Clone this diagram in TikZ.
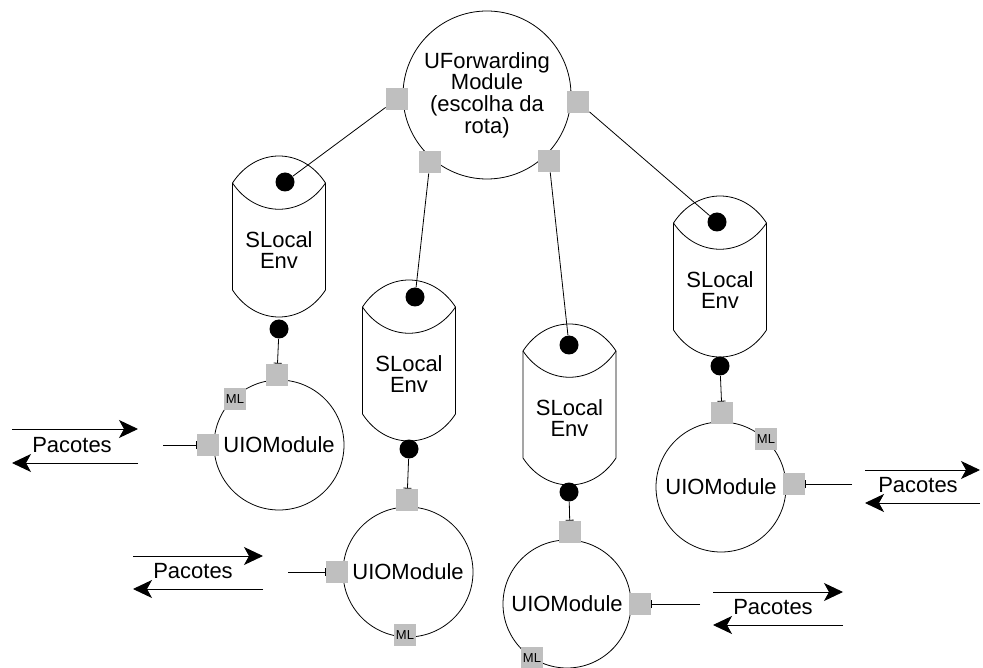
\documentclass[tikz,border=0pt]{standalone}
\usepackage{fontspec}
\setmainfont{Liberation Sans}
\usetikzlibrary{arrows.meta}

\tikzset{
  modulo/.style={draw, circle, inner sep=0pt, minimum size=130pt},
  porta/.style={rectangle, fill=black!25, inner sep=0pt, minimum size=22pt},
  portaml/.style={porta, font=\fontsize{13}{13}\selectfont},
  bola/.style={circle, fill=black, inner sep=0pt, minimum size=19pt},
  ligabar/.style={-{Bar[width=8pt]}},
  seta/.style={line width=0.9pt, -{Stealth[length=19pt,width=18pt,inset=5pt]}}
}

% cilindro SLocal Env: nome, x, y do topo das paredes
\newcommand{\cilindro}[3]{%
  \begin{scope}[shift={(#2,#3)}]
    \draw[fill=white] (-46.5,0) -- (-46.5,107)
      .. controls (-23,143) and (23,143) .. (46.5,107) -- (46.5,0)
      .. controls (23,-36) and (-23,-36) .. (-46.5,0) -- cycle;
    \draw (-46.5,0) .. controls (-23,35) and (23,35) .. (46.5,0);
    \node[align=center] (#1) at (0,67) {SLocal\\Env};
  \end{scope}}

\begin{document}
\begin{tikzpicture}[x=1pt, y=-1pt, line width=0.8pt, font=\fontsize{22}{21.7}\selectfont]
  \useasboundingbox (0,0) rectangle (983,668);

  % modulo central
  \node[modulo, minimum size=168pt, align=center] (uf) at (487,95)
    {UForwarding\\Module\\(escolha da\\rota)};

  % modulos de E/S
  \node[modulo] (io1) at (279,445) {UIOModule};
  \node[modulo] (io2) at (408,572) {UIOModule};
  \node[modulo, minimum size=128pt] (io3) at (567,604) {UIOModule};
  \node[modulo] (io4) at (721,487) {UIOModule};

  % ambientes locais
  \cilindro{env1}{279}{183}
  \cilindro{env2}{409}{307}
  \cilindro{env3}{569.5}{351}
  \cilindro{env4}{720}{223}

  % bolas dos cilindros
  \node[bola] (b1a) at (285,182) {};
  \node[bola] (b1b) at (279,329) {};
  \node[bola] (b2a) at (415,297) {};
  \node[bola] (b2b) at (409,449) {};
  \node[bola] (b3a) at (569,345) {};
  \node[bola] (b3b) at (569,492) {};
  \node[bola] (b4a) at (717,222) {};
  \node[bola] (b4b) at (720,366) {};

  % portas do modulo central
  \node[porta] (ufa) at (397,99) {};
  \node[porta] (ufb) at (430,162) {};
  \node[porta] (ufc) at (549,161) {};
  \node[porta] (ufd) at (578,102) {};

  % portas dos modulos de E/S
  \node[porta] (p1t) at (277,375) {};
  \node[porta] (p1l) at (208,445) {};
  \node[portaml] (ml1) at (235,399) {ML};
  \node[porta] (p2t) at (407,500) {};
  \node[porta] (p2l) at (337,572) {};
  \node[portaml] (ml2) at (405,635) {ML};
  \node[porta] (p3t) at (570,532) {};
  \node[porta] (p3r) at (640,604) {};
  \node[portaml] (ml3) at (532,658) {ML};
  \node[porta] (p4t) at (722,413) {};
  \node[porta] (p4r) at (794,484) {};
  \node[portaml] (ml4) at (766,439) {ML};

  % ligacoes
  \draw (ufa) -- (b1a);
  \draw (ufb) -- (b2a);
  \draw (ufc) -- (b3a);
  \draw (ufd) -- (b4a);
  \draw[ligabar] (b1b) -- (p1t);
  \draw[ligabar] (b2b) -- (p2t);
  \draw[ligabar] (b3b) -- (p3t);
  \draw[ligabar] (b4b) -- (p4t);

  % entradas de pacotes
  \coordinate (s1) at (163,445);
  \coordinate (s2) at (288,572);
  \coordinate (s3) at (700,604);
  \coordinate (s4) at (852,484);
  \draw[ligabar] (s1) -- (p1l.west);
  \draw[ligabar] (s2) -- (p2l.west);
  \draw[ligabar] (s3) -- (p3r.east);
  \draw[ligabar] (s4) -- (p4r.east);

  \node (pac1) at (72,445) {Pacotes};
  \node (pac2) at (193,571) {Pacotes};
  \node (pac3) at (773,607) {Pacotes};
  \node (pac4) at (918,485) {Pacotes};

  \foreach \i/\xa/\xb/\ya/\yb in {1/12/138/429/463, 2/133/263/556/589,
      3/713/843/592/625, 4/865/980/470/503}{
    \coordinate (in\i a) at (\xa,\ya);
    \coordinate (in\i b) at (\xb,\ya);
    \coordinate (out\i a) at (\xb,\yb);
    \coordinate (out\i b) at (\xa,\yb);
    \draw[seta] (in\i a) -- (in\i b);
    \draw[seta] (out\i a) -- (out\i b);
  }
\end{tikzpicture}
\end{document}
